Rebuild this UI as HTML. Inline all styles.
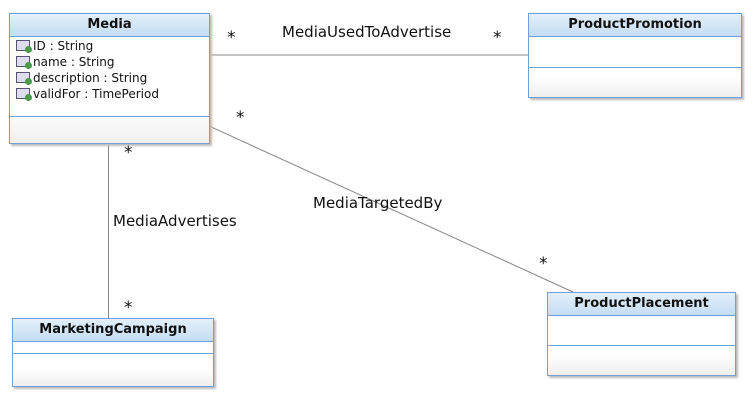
<!DOCTYPE html>
<html><head><style>
body{margin:0;width:755px;height:401px;background:#fff;position:relative;overflow:hidden;font-family:"DejaVu Sans","Liberation Sans",sans-serif;}
.box{position:absolute;border:1px solid #6fa0da;background:linear-gradient(#fff 75%,#efefef);box-shadow:2px 2px 2px #bbb;box-sizing:border-box;}
.hd{height:22px;border-bottom:1px solid #6fa0da;background:linear-gradient(#e4f0fc,#c4dcf2);font-weight:bold;font-size:13px;text-align:center;line-height:22px;color:#111;}
.dv{position:absolute;left:0;right:0;border-top:1px solid #6fa0da;}
.at{font-size:12px;line-height:16px;padding-left:6px;color:#111;white-space:nowrap;}
.ic{display:inline-block;width:12px;height:9px;border:1px solid #557;margin-right:3px;vertical-align:-1px;position:relative;background:#dde}
.ic:after{content:"";position:absolute;right:-3px;bottom:-3px;width:7px;height:7px;border-radius:50%;background:#4a9a4a;}
.lb{position:absolute;font-size:15px;color:#111;}
.st{position:absolute;font-size:17px;color:#111;}
</style></head><body>
<svg width="755" height="401" style="position:absolute;left:0;top:0">
<line x1="209" y1="55" x2="528" y2="55" stroke="#888"/>
<line x1="108.5" y1="143" x2="108.5" y2="318" stroke="#888"/>
<line x1="209" y1="126" x2="573" y2="292" stroke="#888"/>
</svg>
<div class="box" style="left:9px;top:13px;width:201px;height:131px">
<div class="hd">Media</div>
<div style="padding-top:1px">
<div class="at"><span class="ic"></span>ID : String</div>
<div class="at"><span class="ic"></span>name : String</div>
<div class="at"><span class="ic"></span>description : String</div>
<div class="at"><span class="ic"></span>validFor : TimePeriod</div>
</div>
<div class="dv" style="top:102px"></div>
</div>
<div class="box" style="left:528px;top:13px;width:214px;height:85px">
<div class="hd">ProductPromotion</div>
<div class="dv" style="top:53px"></div>
</div>
<div class="box" style="left:12px;top:318px;width:202px;height:69px">
<div class="hd">MarketingCampaign</div>
<div class="dv" style="top:34px"></div>
</div>
<div class="box" style="left:547px;top:292px;width:189px;height:84px">
<div class="hd">ProductPlacement</div>
<div class="dv" style="top:52px"></div>
</div>
<div class="st" style="left:227px;top:28px">*</div>
<div class="lb" style="left:282px;top:23px">MediaUsedToAdvertise</div>
<div class="st" style="left:493px;top:28px">*</div>
<div class="st" style="left:236px;top:108px">*</div>
<div class="st" style="left:124px;top:143px">*</div>
<div class="lb" style="left:313px;top:194px">MediaTargetedBy</div>
<div class="lb" style="left:113px;top:212px">MediaAdvertises</div>
<div class="st" style="left:539px;top:254px">*</div>
<div class="st" style="left:124px;top:298px">*</div>
</body></html>
